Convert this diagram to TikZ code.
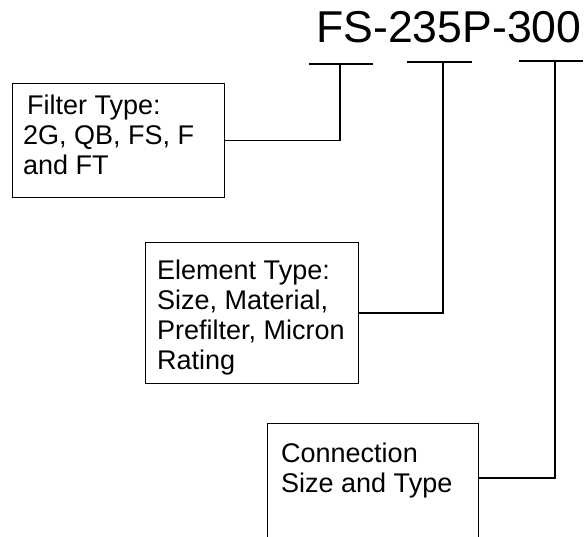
\documentclass[tikz,border=0pt]{standalone}
\usepackage{fontspec}
\setmainfont{Liberation Sans}
\begin{document}
\begin{tikzpicture}[x=1pt,y=-1pt,
  box/.style={draw=black,line width=1.3pt,inner sep=0pt,anchor=north west},
  txt/.style={anchor=base west,inner sep=0pt,font=\fontsize{27}{30}\selectfont},
  ttl/.style={anchor=base west,inner sep=0pt,font=\fontsize{44.6}{50}\selectfont},
  conn/.style={draw=black,line width=1.3pt},
  bar/.style={draw=black,line width=1.6pt}]
\useasboundingbox (0,0) rectangle (587,537);
\fill[white] (0,0) rectangle (587,537);
% title
\node[ttl] (title) at (316,43) {FS-235P-300};
% bars under code parts
\coordinate (a1) at (309,64); \coordinate (a2) at (373,64); \coordinate (m1) at (340,64);
\coordinate (c1) at (407,62); \coordinate (c2) at (472,62); \coordinate (m2) at (443,62);
\coordinate (d1) at (519,61); \coordinate (d2) at (583,61); \coordinate (m3) at (555,61);
\draw[bar] (a1) -- (a2);
\draw[bar] (c1) -- (c2);
\draw[bar] (d1) -- (d2);
% boxes
\node[box,minimum width=212pt,minimum height=114pt] (b1) at (12,83) {};
\node[box,minimum width=213pt,minimum height=141pt] (b2) at (145,242) {};
\node[box,minimum width=211pt,minimum height=150pt] (b3) at (267,423) {};
\coordinate (e3) at ([yshift=-55pt]b3.north east);
% texts
\node[txt] (t11) at (27,115) {Filter Type:};
\node[txt] (t12) at (23,145) {2G, QB, FS, F};
\node[txt] (t13) at (23,175) {and FT};
\node[txt] (t21) at (157,280) {Element Type:};
\node[txt] (t22) at (157,310) {Size, Material,};
\node[txt] (t23) at (157,340) {Prefilter, Micron};
\node[txt] (t24) at (157,370) {Rating};
\node[txt] (t31) at (281,463) {Connection};
\node[txt] (t32) at (281,493) {Size and Type};
% connectors
\draw[conn] (b1.east) -| (m1);
\draw[conn] (b2.east) -| (m2);
\draw[conn] (e3) -| (m3);
\end{tikzpicture}
\end{document}
